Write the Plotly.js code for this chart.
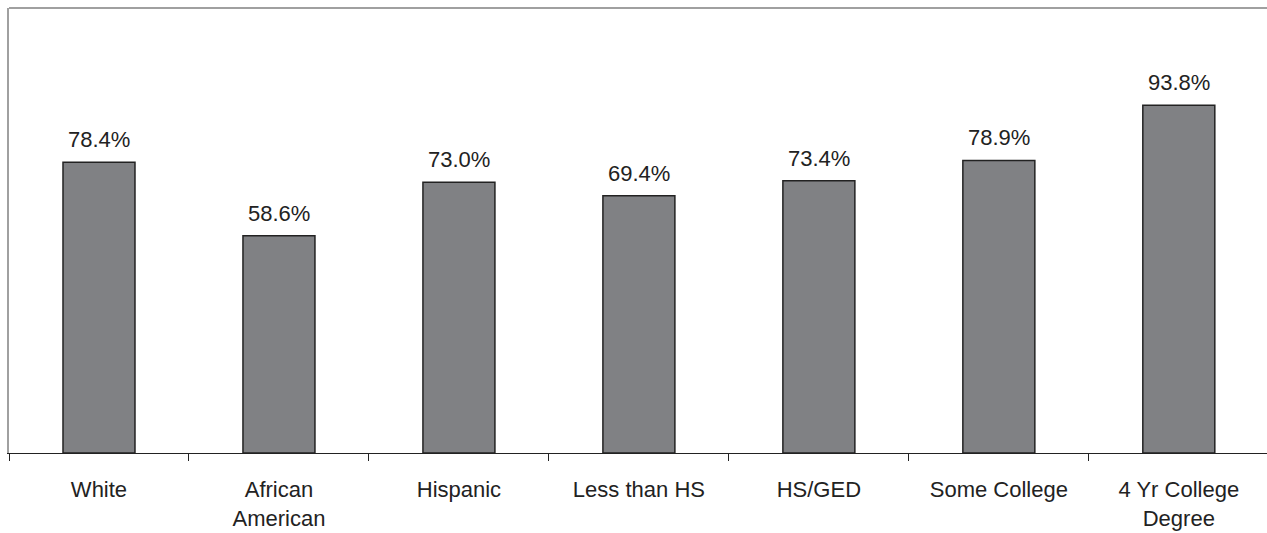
<!DOCTYPE html>
<html>
<head>
<meta charset="utf-8">
<script src="https://cdn.plot.ly/plotly-3.0.1.min.js"></script>
<style>html,body{margin:0;padding:0;background:#fff;}#chart{width:1267px;height:533px;}</style>
</head>
<body>
<div id="chart"></div>
<script>
const categories = ["White", "African<br>American", "Hispanic", "Less than HS", "HS/GED", "Some College", "4 Yr College<br>Degree"];
const values = [78.4, 58.6, 73.0, 69.4, 73.4, 78.9, 93.8];
const valueLabels = values.map(v => v.toFixed(1) + "%");

const FONT = "Liberation Sans, Arial, sans-serif";

const trace = {
  type: "bar",
  x: categories,
  y: values,
  marker: {color: "#808184", line: {color: "#222", width: 1.5}},
  hoverinfo: "none"
};

const annotations = categories.map((c, i) => ({
  x: c, y: values[i], xref: "x", yref: "y",
  text: valueLabels[i], showarrow: false,
  yanchor: "bottom", yshift: 8,
  font: {family: FONT, size: 22, color: "#222"}
}));

const layout = {
  width: 1267, height: 533,
  margin: {l: 9, r: 0, t: 8, b: 80},
  paper_bgcolor: "#fff", plot_bgcolor: "#fff",
  bargap: 0.6,
  showlegend: false,
  font: {family: FONT, size: 22, color: "#222"},
  xaxis: {
    type: "category",
    range: [-0.5, 6.49],
    showline: true, linecolor: "#222", linewidth: 1,
    ticks: "outside", tickson: "boundaries", ticklen: 7, tickcolor: "#222",
    ticklabelstandoff: 17,
    showgrid: false, zeroline: false,
    tickfont: {size: 22, color: "#222"}
  },
  yaxis: {
    range: [0, 120],
    showline: true, linecolor: "#a0a0a0", linewidth: 2,
    showticklabels: false, ticks: "", showgrid: false, zeroline: false
  },
  annotations: annotations,
  shapes: [{type: "line", xref: "paper", yref: "paper", x0: 0, x1: 1, y0: 1, y1: 1, line: {color: "#a0a0a0", width: 2}}]
};

Plotly.newPlot("chart", [trace], layout, {displayModeBar: false, staticPlot: true});
</script>
</body>
</html>
